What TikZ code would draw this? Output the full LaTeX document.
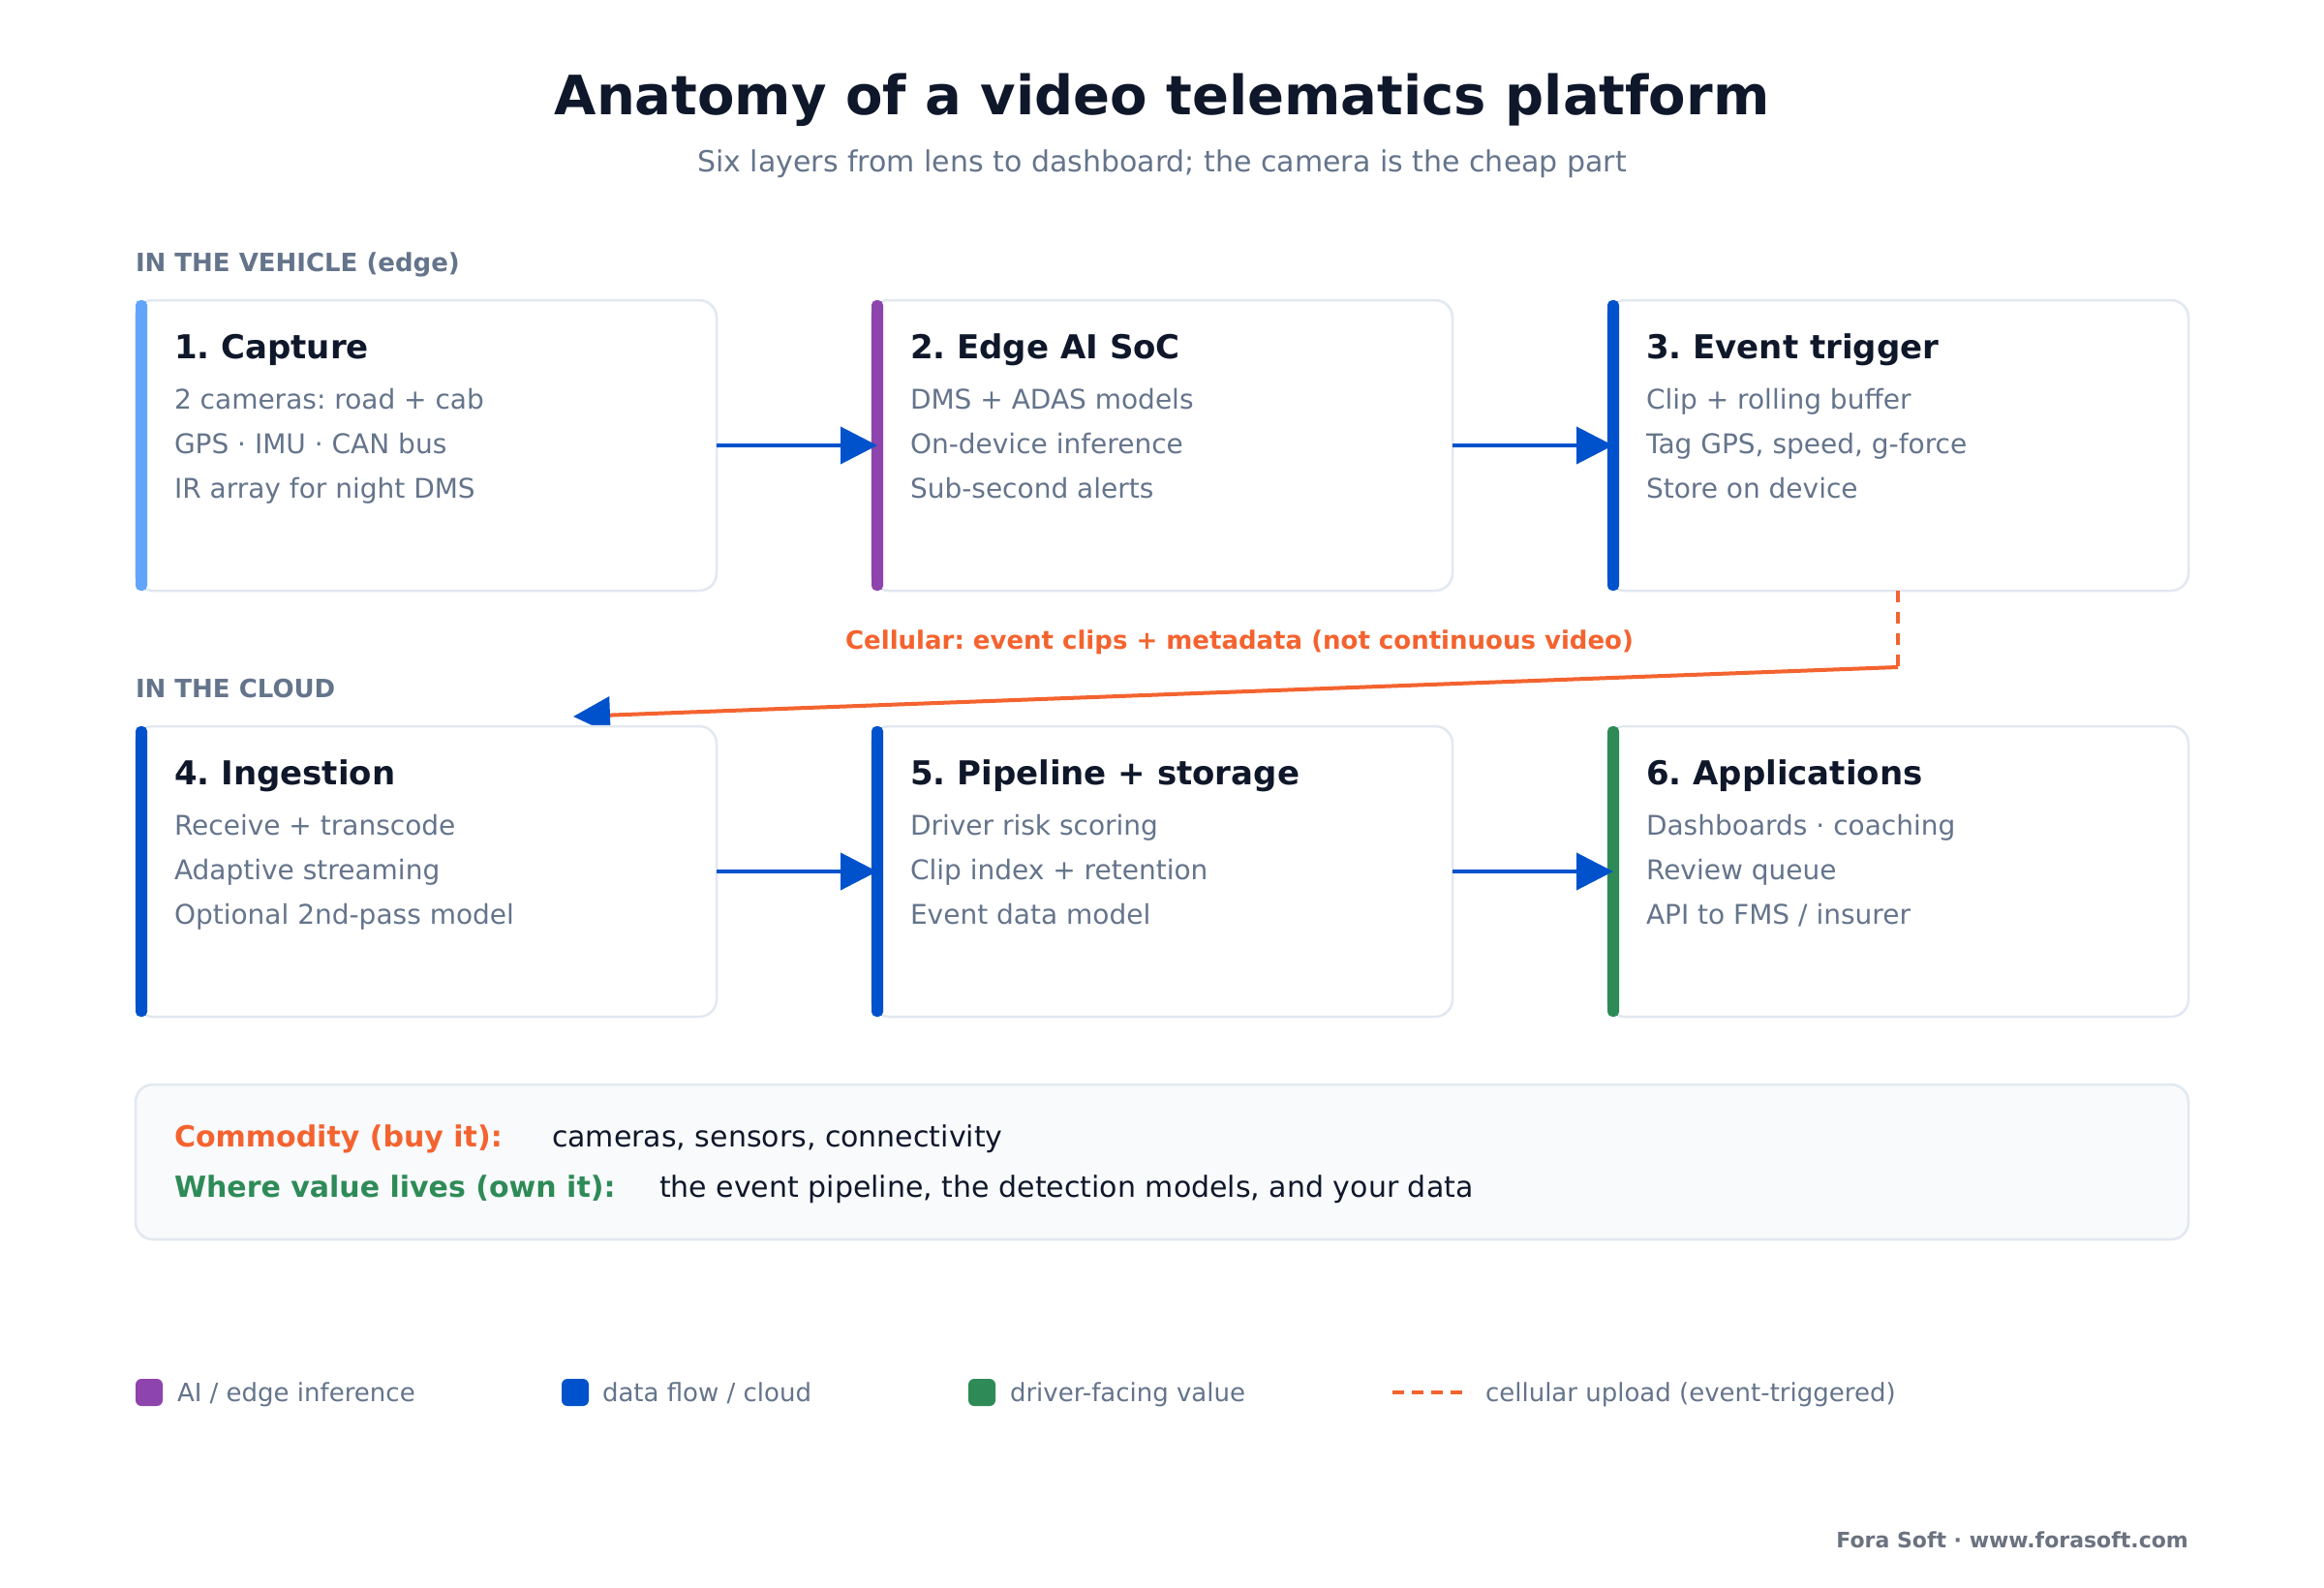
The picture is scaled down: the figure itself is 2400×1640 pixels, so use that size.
\documentclass[tikz,border=0pt]{standalone}
\usepackage{fontspec}
\setmainfont{DejaVu Sans}
\usetikzlibrary{arrows.meta}
\frenchspacing
\definecolor{ink}{HTML}{0F172A}
\definecolor{slate}{HTML}{64748B}
\definecolor{edgeline}{HTML}{E2E8F0}
\definecolor{flow}{HTML}{0052CC}
\definecolor{aip}{HTML}{8E44AD}
\definecolor{lblue}{HTML}{60A5FA}
\definecolor{vgreen}{HTML}{2E8B57}
\definecolor{cell}{HTML}{F4632F}
\definecolor{panel}{HTML}{F8FAFC}
\definecolor{foot}{HTML}{6B7280}
\newcommand\fs[1]{\fontsize{#1pt}{#1pt}\selectfont}
\newcommand\mkcard[8]{%
  \node[card] (#1) at (#2,#3) {};
  \fill[#4, rounded corners=5pt] (#1.north west) rectangle ++(12,300);
  \node[ttl] (#1t) at (#2+40,#3+60) {#5};
  \node[body] (#1a) at (#2+40,#3+112) {#6};
  \node[body] (#1b) at (#2+40,#3+158) {#7};
  \node[body] (#1c) at (#2+40,#3+204) {#8};
}
\begin{document}
\frenchspacing
\begin{tikzpicture}[x=1pt,y=-1pt,
  card/.style={draw=edgeline, line width=2.5pt, fill=white, rounded corners=18pt,
    minimum width=600pt, minimum height=300pt, inner sep=0pt, outer sep=0pt, anchor=north west},
  txt/.style={anchor=base west, inner sep=0pt, outer sep=0pt},
  ttl/.style={txt, font=\fs{34}\bfseries, text=ink},
  body/.style={txt, font=\fs{28}, text=slate},
  sect/.style={txt, font=\fs{26}\bfseries, text=slate},
  legtxt/.style={txt, font=\fs{26}, text=slate},
  lsq/.style={minimum size=28pt, inner sep=0pt, outer sep=0pt, rounded corners=6pt, anchor=north west},
  flowarrow/.style={draw=flow, line width=4pt, shorten >=-6pt, -{Triangle[length=38pt,width=38pt]}},
]
\fill[white] (0,0) rectangle (2400,1640);
\useasboundingbox (0,0) rectangle (2400,1640);

% title
\node[anchor=base, inner sep=0pt, font=\fs{56}\bfseries, text=ink] (title) at (1200,119)
  {Anatomy of a video telematics platform};
\node[anchor=base, inner sep=0pt, font=\fs{30}, text=slate] (sub) at (1200,178)
  {Six layers from lens to dashboard; the camera is the cheap part};

% row 1
\node[sect] (s1) at (140,280) {IN THE VEHICLE (edge)};
\mkcard{b1}{140}{310}{lblue}{1. Capture}{2 cameras: road + cab}{GPS · IMU · CAN bus}{IR array for night DMS}
\mkcard{b2}{900}{310}{aip}{2. Edge AI SoC}{DMS + ADAS models}{On-device inference}{Sub-second alerts}
\mkcard{b3}{1660}{310}{flow}{3. Event trigger}{Clip + rolling buffer}{Tag GPS, speed, g-force}{Store on device}
\draw[flowarrow] (b1.east) -- (b2.west);
\draw[flowarrow] (b2.east) -- (b3.west);

% cellular upload
\coordinate (k) at (1960,689);
\coordinate (c4) at (592,740);
\draw[cell, line width=4pt, dash pattern=on 12pt off 10pt] (b3.south) -- (k);
\draw[cell, line width=4pt, -{Triangle[length=38pt,width=38pt,color=flow]}] (k) -- (c4);
\node[anchor=base, inner sep=0pt, font=\fs{26}\bfseries, text=cell] (cl) at (1280,670)
  {Cellular: event clips + metadata (not continuous video)};

% row 2
\node[sect] (s2) at (140,720) {IN THE CLOUD};
\mkcard{b4}{140}{750}{flow}{4. Ingestion}{Receive + transcode}{Adaptive streaming}{Optional 2nd-pass model}
\mkcard{b5}{900}{750}{flow}{5. Pipeline + storage}{Driver risk scoring}{Clip index + retention}{Event data model}
\mkcard{b6}{1660}{750}{vgreen}{6. Applications}{Dashboards · coaching}{Review queue}{API to FMS / insurer}
\draw[flowarrow] (b4.east) -- (b5.west);
\draw[flowarrow] (b5.east) -- (b6.west);

% panel
\node[draw=edgeline, line width=2.5pt, fill=panel, rounded corners=18pt, minimum width=2120pt,
  minimum height=160pt, inner sep=0pt, outer sep=0pt, anchor=north west] (pn) at (140,1120) {};
\node[txt, font=\fs{30}\bfseries, text=cell] (p1) at (180,1184) {Commodity (buy it):};
\node[txt, font=\fs{30}, text=ink] (p2) at (570,1184) {cameras, sensors, connectivity};
\node[txt, font=\fs{30}\bfseries, text=vgreen] (p3) at (180,1236) {Where value lives (own it):};
\node[txt, font=\fs{30}, text=ink] (p4) at (681,1236) {the event pipeline, the detection models, and your data};

% legend
\node[lsq, fill=aip] (lg1) at (140,1424) {};
\node[legtxt] (lt1) at (183,1447) {AI / edge inference};
\node[lsq, fill=flow] (lg2) at (580,1424) {};
\node[legtxt] (lt2) at (622,1447) {data flow / cloud};
\node[lsq, fill=vgreen] (lg3) at (1000,1424) {};
\node[legtxt] (lt3) at (1043,1447) {driver-facing value};
\coordinate (d1) at (1438,1438);
\coordinate (d2) at (1518,1438);
\draw[cell, line width=4pt, dash pattern=on 12pt off 8pt] (d1) -- (d2);
\node[legtxt] (lt4) at (1534,1447) {cellular upload (event-triggered)};

% footer
\node[anchor=base east, inner sep=0pt, font=\fs{22}\bfseries, text=foot] (ft) at (2260,1598)
  {Fora Soft · www.forasoft.com};
\end{tikzpicture}
\end{document}
